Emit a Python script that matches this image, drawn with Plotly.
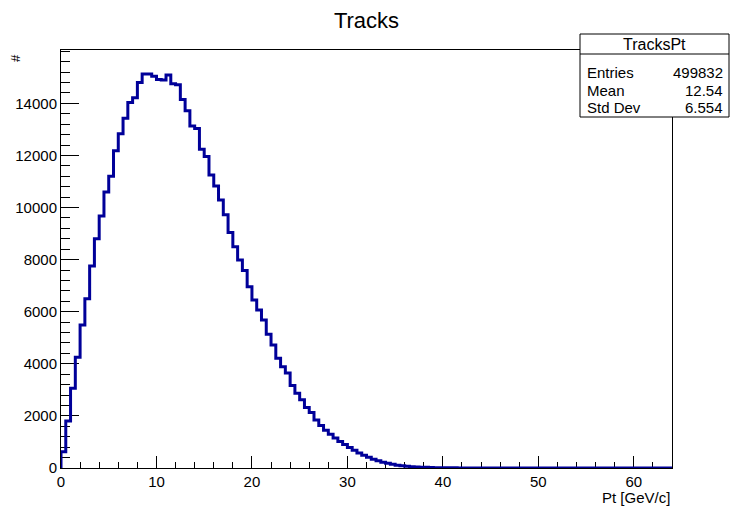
import numpy as np
import plotly.graph_objects as go

# Histogram "TracksPt": 128 bins of 0.5 GeV/c from 0 to 64
bin_low = 0.0
bin_width = 0.5
counts = [
    620, 1800, 3060, 4250, 5490, 6500, 7760, 8800, 9680, 10600,
    11200, 12180, 12830, 13430, 14030, 14220, 14800, 15130, 15130, 15040,
    14920, 14900, 15090, 14750, 14720, 14150, 13720, 13130, 13040, 12240,
    11960, 11250, 10830, 10290, 9720, 9040, 8500, 7990, 7580, 6960,
    6450, 6070, 5680, 5140, 4720, 4210, 3890, 3650, 3170, 2870,
    2620, 2320, 2130, 1840, 1630, 1450, 1300, 1150, 1020, 900,
    790, 680, 580, 490, 410, 340, 275, 220, 180, 140,
    110, 88, 68, 52, 40, 31, 24, 18, 14, 10,
    8, 6, 5, 4, 3, 2, 2, 1, 1, 1,
    1, 0, 0, 0, 0, 0, 0, 0, 0, 0,
    0, 0, 0, 0, 0, 0, 0, 0, 0, 0,
    0, 0, 0, 0, 0, 0, 0, 0, 0, 0,
    0, 0, 0, 0, 0, 0, 0, 0,
]
x_ticks = [0, 10, 20, 30, 40, 50, 60]
y_ticks = [0, 2000, 4000, 6000, 8000, 10000, 12000, 14000]
stats_labels = ["Entries", "Mean", "Std Dev"]
stats_values = ["499832", "12.54", "6.554"]

n = len(counts)
edges = bin_low + bin_width * np.arange(n + 1)
xs = [edges[0]] + list(edges[:-1]) + [edges[-1], edges[-1]]
ys = [0] + list(counts) + [counts[-1], 0]

FONT = "Liberation Sans, Arial, Helvetica, sans-serif"
W, H = 731, 506
ML, MR, MT, MB = 61, 59, 50, 38
pw, ph = W - ML - MR, H - MT - MB

def px(x):
    return (x - ML) / pw

def py(y):
    return (H - MB - y) / ph

fig = go.Figure()
fig.add_trace(go.Scatter(
    x=xs, y=ys, mode="lines", line=dict(color="#000099", width=3, shape="hv"),
    hoverinfo="skip", showlegend=False,
))

fig.update_layout(
    width=W, height=H, autosize=False,
    margin=dict(l=ML, r=MR, t=MT, b=MB, pad=0),
    paper_bgcolor="white", plot_bgcolor="white",
    font=dict(family=FONT, size=15, color="black"),
    showlegend=False,
    title=dict(text="Tracks", x=0.5, xref="paper", xanchor="center",
               y=1 - 20 / H, yref="container", yanchor="middle",
               font=dict(size=22, family=FONT, color="black")),
)
fig.update_xaxes(
    range=[0, 64], tickvals=x_ticks, ticks="inside", ticklen=12, tickwidth=1,
    tickcolor="black", showline=True, linecolor="black", linewidth=1, mirror=True,
    showgrid=False, zeroline=False, layer="below traces",
    minor=dict(dtick=2, ticks="inside", ticklen=6, tickcolor="black", showgrid=False),
    tickfont=dict(size=15),
)
fig.update_yaxes(
    range=[0, 16050], tickvals=y_ticks, tickformat="d", ticks="inside", ticklen=18,
    tickwidth=1, tickcolor="black", showline=True, linecolor="black", linewidth=1,
    mirror=True, showgrid=False, zeroline=False, layer="below traces",
    minor=dict(dtick=400, ticks="inside", ticklen=9, tickcolor="black", showgrid=False),
    tickfont=dict(size=15),
)

# axis titles (ROOT style)
fig.add_annotation(text="Pt [GeV/c]", xref="paper", yref="paper", x=1.0, y=py(497),
                   xanchor="right", yanchor="middle", showarrow=False, font=dict(size=15))
fig.add_annotation(text="#", xref="paper", yref="paper", x=px(16), y=py(58),
                   xanchor="center", yanchor="middle", showarrow=False, textangle=-90,
                   font=dict(size=13))

# stats box
bx0, bx1, by0, by1, bdiv = 580, 729, 34, 117, 54
fig.add_shape(type="rect", xref="paper", yref="paper", x0=px(bx0), x1=px(bx1),
              y0=py(by1), y1=py(by0), line=dict(color="black", width=1),
              fillcolor="white", layer="above")
fig.add_shape(type="line", xref="paper", yref="paper", x0=px(bx0), x1=px(bx1),
              y0=py(bdiv), y1=py(bdiv), line=dict(color="black", width=1), layer="above")
fig.add_annotation(text="TracksPt", xref="paper", yref="paper", x=px((bx0 + bx1) / 2),
                   y=py(44), xanchor="center", yanchor="middle", showarrow=False,
                   font=dict(size=16))
for i, (lab, val) in enumerate(zip(stats_labels, stats_values)):
    yy = py(72 + 18 * i)
    fig.add_annotation(text=lab, xref="paper", yref="paper", x=px(585), y=yy,
                       xanchor="left", yanchor="middle", showarrow=False, font=dict(size=15))
    fig.add_annotation(text=val, xref="paper", yref="paper", x=px(725), y=yy,
                       xanchor="right", yanchor="middle", showarrow=False, font=dict(size=15))

fig.write_html("out.html", config={"displayModeBar": False},
               post_script="document.body.style.margin='0';document.body.style.overflow='hidden';")
